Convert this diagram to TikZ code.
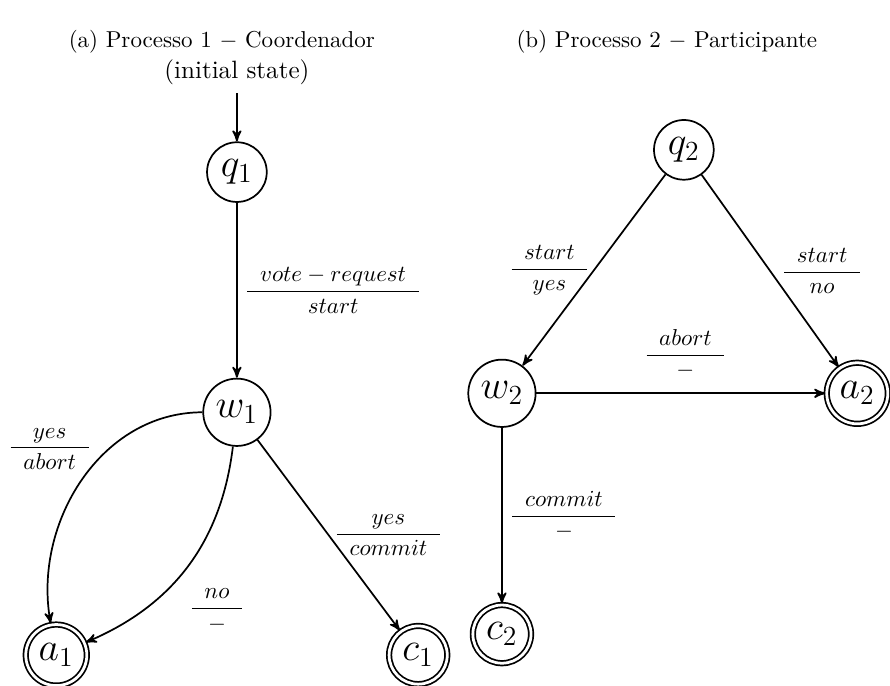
\documentclass[tikz,border=0pt]{standalone}
\usepackage{amsmath}
\usetikzlibrary{automata,arrows,positioning}

\newcommand{\frlabel}[2]{$\dfrac{\kern5.5pt #1\kern5.5pt}{\kern5.5pt #2\kern5.5pt}$}

\begin{document}
\begin{tikzpicture}[>=stealth', line width=0.75pt,
    every state/.style={minimum size=0pt, inner sep=3pt, font=\LARGE},
    accepting/.style={accepting by double, double distance=1.2pt},
    lbl/.style={inner sep=0pt}]
  \useasboundingbox (0,0) rectangle (13.6,-10.48);
  \node (capa) at (3.39,-0.64) {(a) Processo 1 $-$ Coordenador};
  \node (capb) at (10.19,-0.64) {(b) Processo 2 $-$ Participante};

  \node[font=\fontsize{10.9pt}{13pt}\selectfont] (ini) at (3.62,-1.10) {(initial state)};
  \node[state] (q1) at (3.62,-2.63) {$q_1$};
  \node[state] (w1) at (3.62,-6.30) {$w_1$};
  \node[state,accepting] (a1) at (0.86,-10.01) {$a_1$};
  \node[state,accepting] (c1) at (6.39,-10.01) {$c_1$};

  \draw[->] (ini) -- (q1);
  \draw[->] (q1) -- node[lbl,right=3pt] {\frlabel{vote-request}{start}} (w1);
  \draw[->] (w1) to[out=180,in=100] node[lbl,pos=0.2,anchor=north east,xshift=-0.82cm,yshift=-0.04cm] {\frlabel{yes}{abort}} (a1);
  \draw[->] (w1) to[bend left=30] node[lbl,pos=0.7,anchor=west,xshift=0.52cm,yshift=-0.14cm] {\frlabel{no}{-}} (a1);
  \draw[->] (w1) -- node[lbl,right=2pt] {\frlabel{yes}{commit}} (c1);

  \node[state] (q2) at (10.45,-2.29) {$q_2$};
  \node[state] (w2) at (7.67,-6.01) {$w_2$};
  \node[state,accepting] (a2) at (13.10,-6.01) {$a_2$};
  \node[state,accepting] (c2) at (7.67,-9.69) {$c_2$};

  \draw[->] (q2) -- node[lbl,left=1.3pt] {\frlabel{start}{yes}} (w2);
  \draw[->] (q2) -- node[lbl,right=4.5pt] {\frlabel{start}{no}} (a2);
  \draw[->] (w2) -- node[lbl,above=6pt,xshift=2pt] {\frlabel{abort}{-}} (a2);
  \draw[->] (w2) -- node[lbl,right=3pt] {\frlabel{commit}{-}} (c2);
\end{tikzpicture}
\end{document}
